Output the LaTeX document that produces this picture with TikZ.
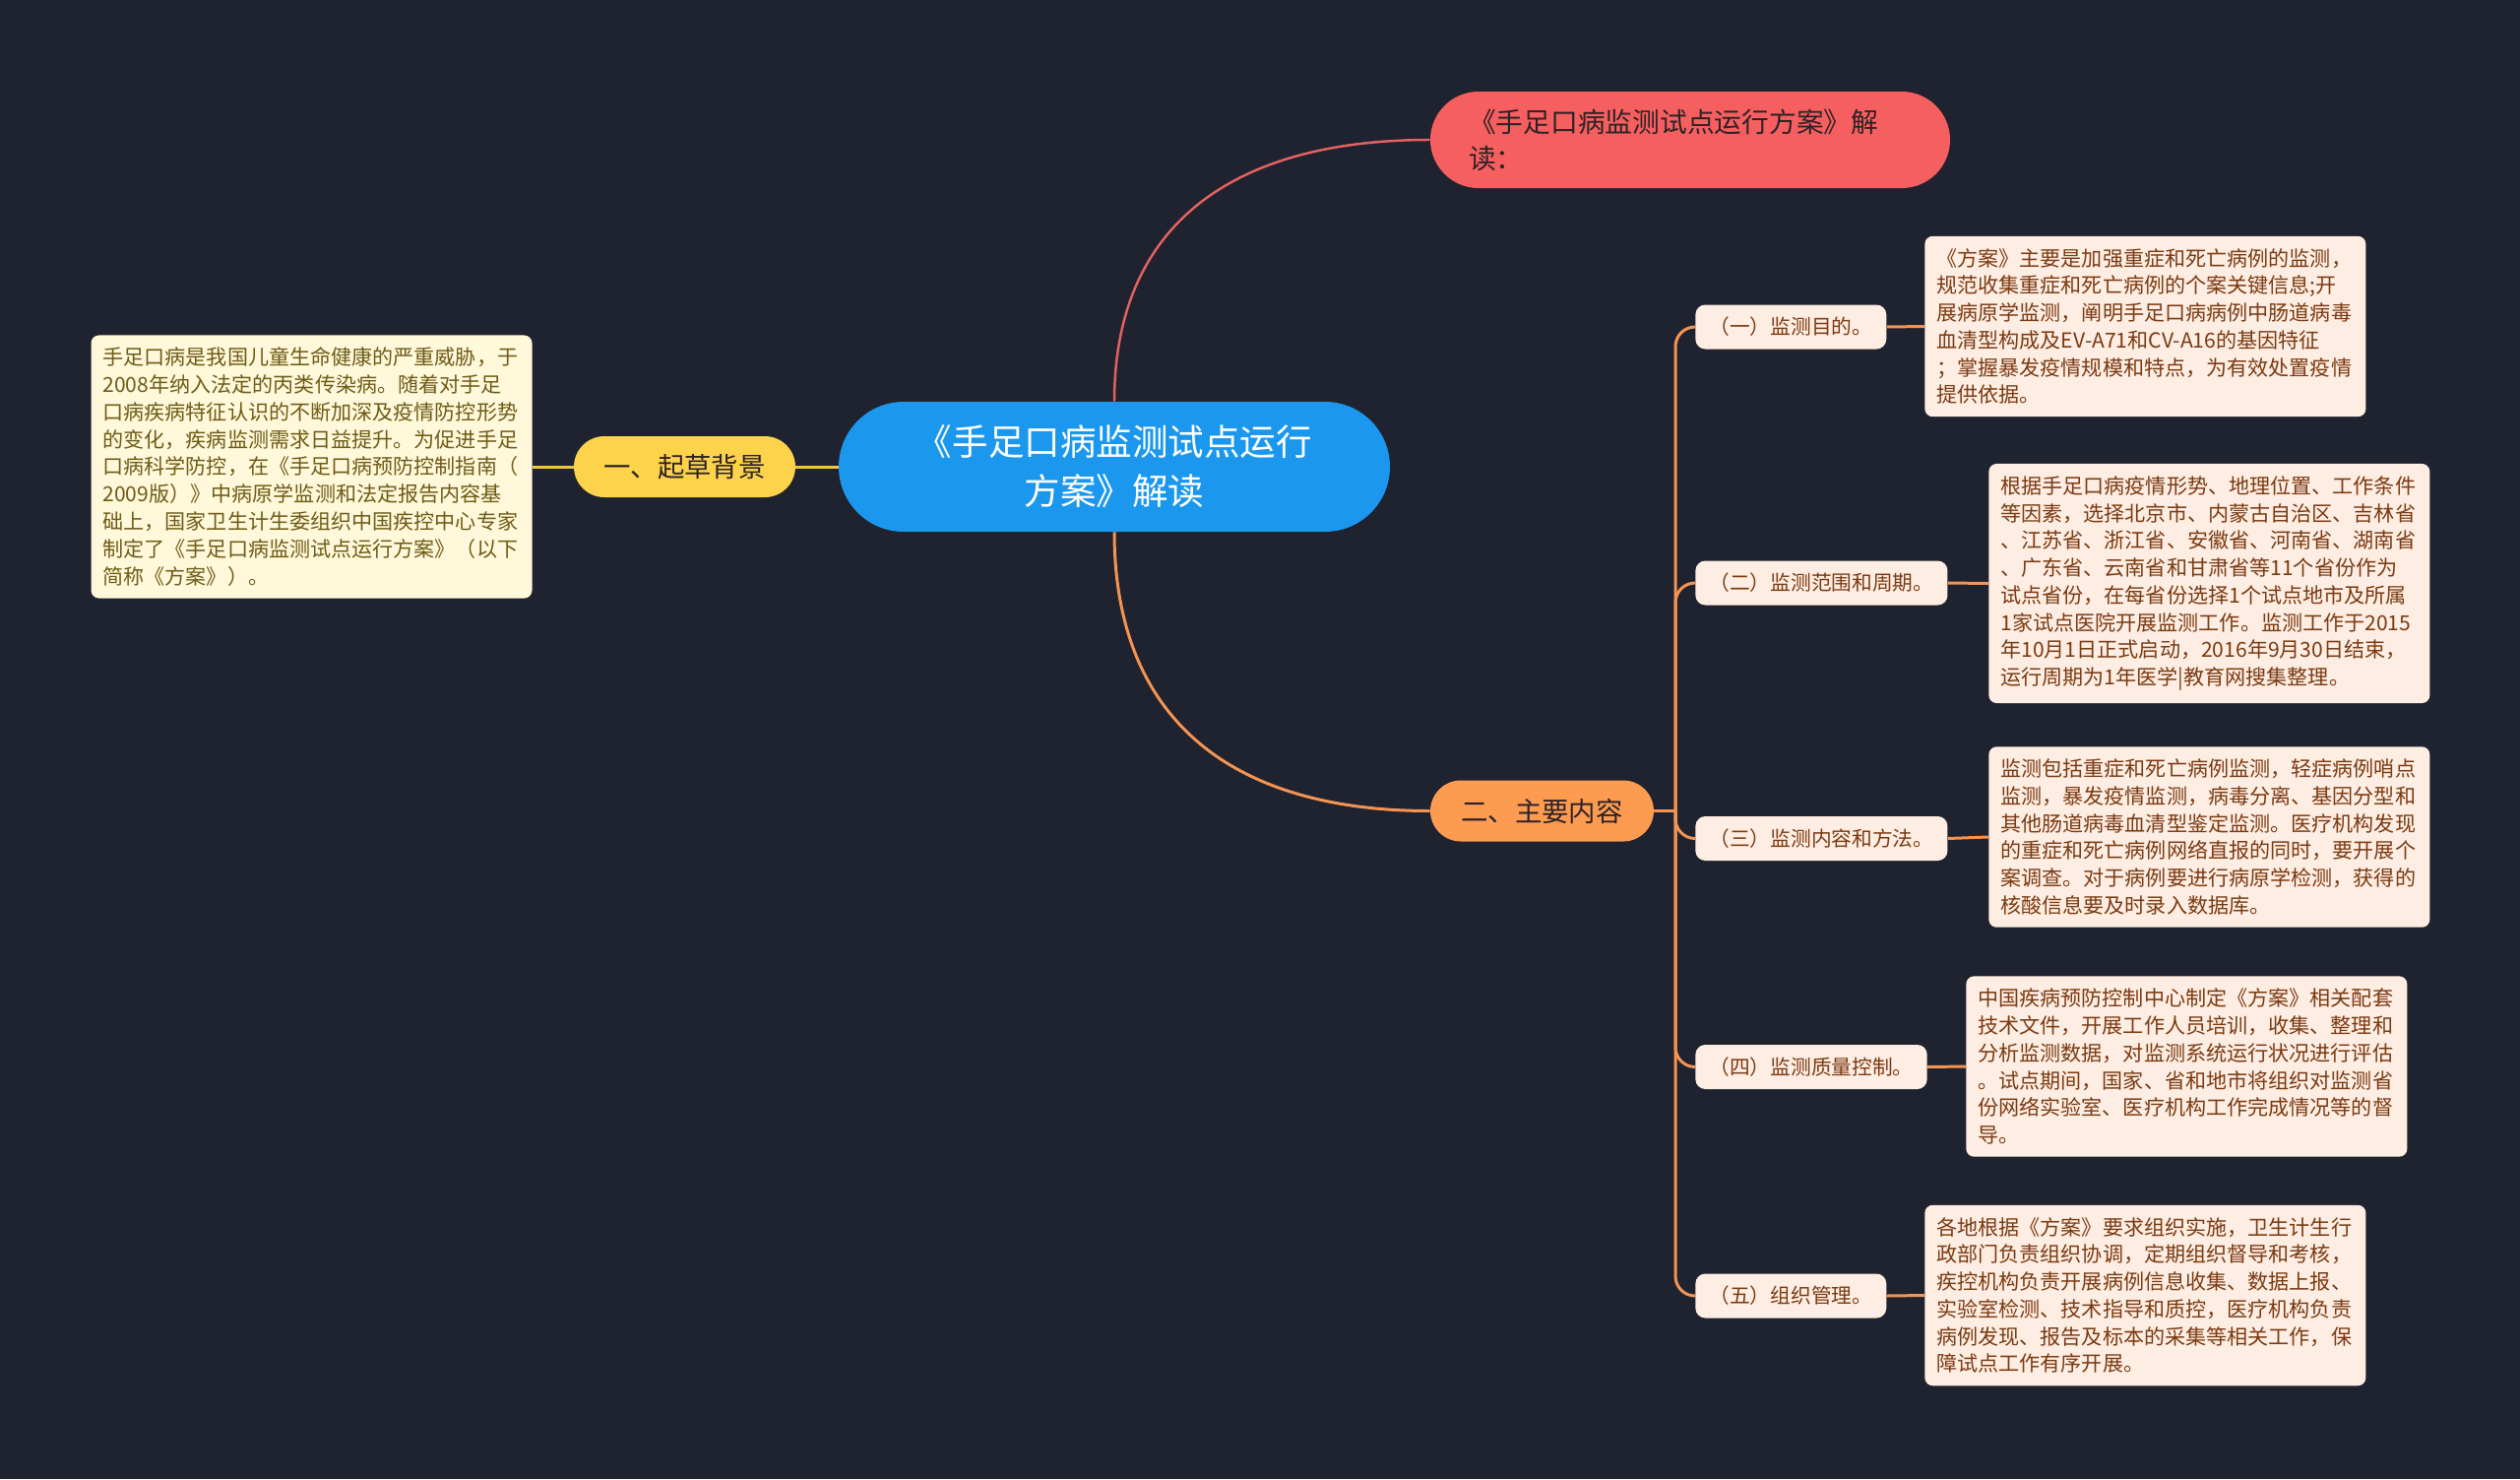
\documentclass[tikz,border=0pt]{standalone}
\usepackage{fontspec}
\setmainfont{Noto Sans CJK SC}
\usepackage{xcolor}
\definecolor{BgColor}{HTML}{1F222F}
\definecolor{RootColor}{HTML}{1B98EE}
\definecolor{TopColor}{HTML}{F65F5F}
\definecolor{TopLinkColor}{HTML}{E36262}
\definecolor{PillColor}{HTML}{FCD34B}
\definecolor{PillLinkColor}{HTML}{F1C63F}
\definecolor{MainColor}{HTML}{FD9B51}
\definecolor{MainLinkColor}{HTML}{F49452}
\definecolor{LeafFill}{HTML}{FEEDE2}
\definecolor{LeafText}{HTML}{7A3A12}
\definecolor{NoteFill}{HTML}{FFF8DA}
\definecolor{NoteText}{HTML}{6E5B16}
\definecolor{DarkText}{HTML}{2E2226}
\tikzset{
  rootbox/.style={fill=RootColor, text=white, rounded corners=1.32cm, minimum width=11.2cm,
    minimum height=2.64cm, align=center, font=\fontsize{20.8}{28.4}\selectfont},
  topbox/.style={fill=TopColor, text=DarkText, rounded corners=0.98cm, minimum height=1.96cm,
    text width=9cm, inner xsep=0.78cm, align=left, font=\fontsize{15.8}{21}\selectfont},
  pillbox/.style={rounded corners=0.62cm, minimum width=4.5cm, minimum height=1.24cm,
    text=DarkText, font=\fontsize{15.6}{20}\selectfont},
  subbox/.style={fill=LeafFill, text=LeafText, rounded corners=0.2cm, minimum height=0.9cm,
    inner xsep=0.28cm, anchor=west, font=\fontsize{11.8}{14}\selectfont},
  leafbox/.style={fill=LeafFill, text=LeafText, rounded corners=0.16cm, anchor=west, align=left,
    text width=8.48cm, inner xsep=0.24cm, inner ysep=0.25cm, font=\fontsize{12}{15.8}\selectfont},
  link/.style={line width=1.7pt}
}

\begin{document}
\begin{tikzpicture}
  \fill[BgColor] (0,0) rectangle (51.2,-30.04);
  \useasboundingbox (0,0) rectangle (51.2,-30.04);

  \node[rootbox] (root) at (22.64,-9.48) {《手足口病监测试点运行\\方案》解读};
  \node[topbox] (top) at (34.34,-2.84) {《手足口病监测试点运行方案》解\\读：};
  \node[pillbox, fill=PillColor] (bg) at (13.91,-9.48) {一、起草背景};
  \node[pillbox, fill=MainColor, minimum width=4.54cm] (main) at (31.33,-16.47) {二、主要内容};

  \node[leafbox, fill=NoteFill, text=NoteText, anchor=center] (bgtext) at (6.33,-9.48)
    {手足口病是我国儿童生命健康的严重威胁，于\\2008年纳入法定的丙类传染病。随着对手足\\口病疾病特征认识的不断加深及疫情防控形势\\的变化，疾病监测需求日益提升。为促进手足\\口病科学防控，在《手足口病预防控制指南（\\2009版）》中病原学监测和法定报告内容基\\础上，国家卫生计生委组织中国疾控中心专家\\制定了《手足口病监测试点运行方案》（以下\\简称《方案》）。};

  \node[subbox] (s1) at (34.44,-6.64) {（一）监测目的。};
  \node[subbox] (s2) at (34.44,-11.84) {（二）监测范围和周期。};
  \node[subbox] (s3) at (34.44,-17.03) {（三）监测内容和方法。};
  \node[subbox] (s4) at (34.44,-21.67) {（四）监测质量控制。};
  \node[subbox] (s5) at (34.44,-26.32) {（五）组织管理。};

  \node[leafbox] (d1) at (39.10,-6.63)
    {《方案》主要是加强重症和死亡病例的监测，\\规范收集重症和死亡病例的个案关键信息;开\\展病原学监测，阐明手足口病病例中肠道病毒\\血清型构成及EV-A71和CV-A16的基因特征\\；掌握暴发疫情规模和特点，为有效处置疫情\\提供依据。};
  \node[leafbox] (d2) at (40.40,-11.85)
    {根据手足口病疫情形势、地理位置、工作条件\\等因素，选择北京市、内蒙古自治区、吉林省\\、江苏省、浙江省、安徽省、河南省、湖南省\\、广东省、云南省和甘肃省等11个省份作为\\试点省份，在每省份选择1个试点地市及所属\\1家试点医院开展监测工作。监测工作于2015\\年10月1日正式启动，2016年9月30日结束，\\运行周期为1年医学|教育网搜集整理。};
  \node[leafbox] (d3) at (40.40,-17.00)
    {监测包括重症和死亡病例监测，轻症病例哨点\\监测，暴发疫情监测，病毒分离、基因分型和\\其他肠道病毒血清型鉴定监测。医疗机构发现\\的重症和死亡病例网络直报的同时，要开展个\\案调查。对于病例要进行病原学检测，获得的\\核酸信息要及时录入数据库。};
  \node[leafbox] (d4) at (39.94,-21.66)
    {中国疾病预防控制中心制定《方案》相关配套\\技术文件，开展工作人员培训，收集、整理和\\分析监测数据，对监测系统运行状况进行评估\\。试点期间，国家、省和地市将组织对监测省\\份网络实验室、医疗机构工作完成情况等的督\\导。};
  \node[leafbox] (d5) at (39.10,-26.31)
    {各地根据《方案》要求组织实施，卫生计生行\\政部门负责组织协调，定期组织督导和考核，\\疾控机构负责开展病例信息收集、数据上报、\\实验室检测、技术指导和质控，医疗机构负责\\病例发现、报告及标本的采集等相关工作，保\\障试点工作有序开展。};

  \coordinate (trunk) at (34.04,-16.47);

  \draw[link, PillLinkColor] (root.west) -- (bg.east);
  \draw[link, PillLinkColor] (bg.west) -- (bgtext.east);
  \draw[link, TopLinkColor, line width=1.4pt] (root.north) .. controls +(0,3.46) and +(-4.17,0) .. (top.west);
  \draw[link, MainLinkColor] (root.south) .. controls +(0,-3.69) and +(-4.17,0) .. (main.west);
  \draw[link, MainLinkColor] (main.east) -- (trunk);
  \foreach \i in {1,...,5} {
    \draw[link, MainLinkColor, rounded corners=0.4cm] (trunk) |- (s\i.west);
    \draw[link, MainLinkColor] (s\i.east) -- (d\i.west);
  }
\end{tikzpicture}
\end{document}
